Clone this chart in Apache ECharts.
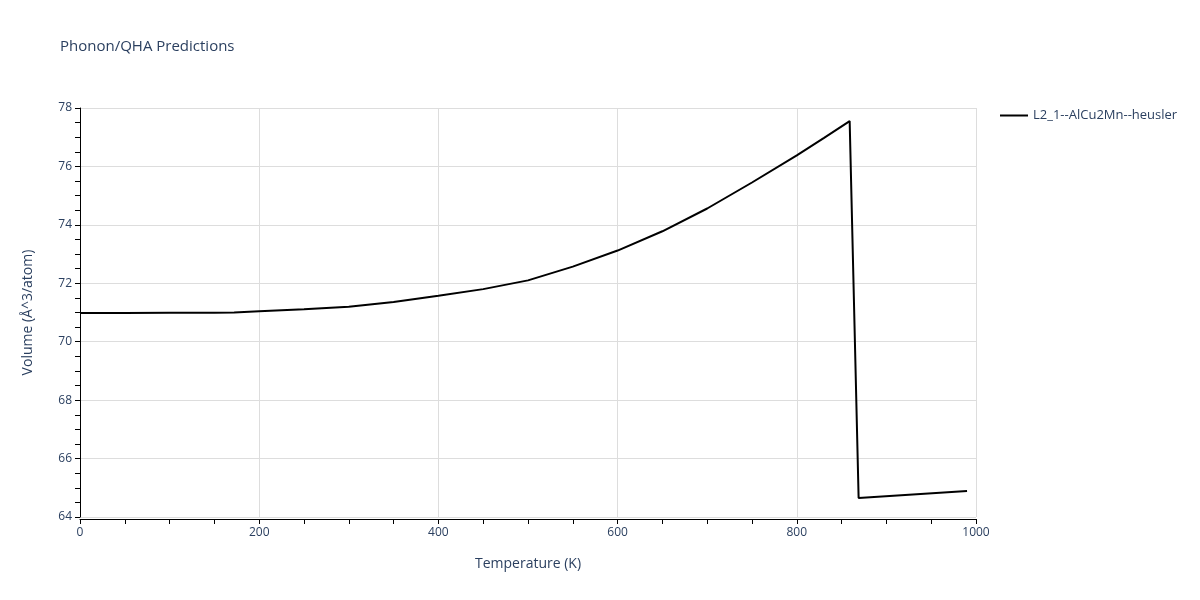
<!DOCTYPE html>
<html>
<head>
<meta charset="utf-8">
<script src="https://cdn.jsdelivr.net/npm/echarts@6/dist/echarts.min.js"></script>
<style>html,body{margin:0;padding:0;background:#fff;}#c{width:1200px;height:600px;}</style>
</head>
<body>
<div id="c"></div>
<script>
const seriesName = 'L2_1--AlCu2Mn--heusler';
const temperatures = [0, 50, 100, 150, 172, 200, 250, 300, 350, 400, 450, 500, 550, 600, 650, 700, 750, 800, 830, 859, 869, 990];
const volumes = [70.98, 70.985, 70.99, 70.995, 71.0, 71.04, 71.11, 71.2, 71.36, 71.57, 71.8, 72.1, 72.57, 73.12, 73.78, 74.56, 75.45, 76.38, 76.97, 77.55, 64.65, 64.89];
const xTicks = {min: 0, max: 1000, interval: 200};
const yTicks = {min: 64, max: 78, interval: 2};

const textColor = '#2a3f5f';
const font = '"Open Sans", "Noto Sans", sans-serif';
const chart = echarts.init(document.getElementById('c'), null, {renderer: 'canvas'});
chart.setOption({
  animation: false,
  backgroundColor: '#fff',
  title: {
    text: 'Phonon/QHA Predictions', left: 60, top: 39, padding: 0,
    textStyle: {fontFamily: font, fontSize: 15, fontWeight: 'normal', color: textColor}
  },
  legend: {
    left: 1000, top: 109, padding: 0, itemWidth: 28, itemHeight: 14, itemGap: 10,
    textStyle: {fontFamily: font, fontSize: 13, color: textColor},
    data: [{name: seriesName, icon: 'path://M0,0 L28,0 L28,2 L0,2 Z'}]
  },
  grid: {left: 80, right: 224, top: 108, bottom: 83, containLabel: false},
  xAxis: {
    type: 'value', min: xTicks.min, max: xTicks.max, interval: xTicks.interval,
    offset: 2,
    name: 'Temperature (K)', nameLocation: 'middle', nameGap: 38,
    nameTextStyle: {fontFamily: font, fontSize: 14, color: textColor},
    axisLine: {show: true, lineStyle: {color: '#000', width: 1}},
    axisTick: {show: true, inside: false, length: 5, lineStyle: {color: '#000'}},
    minorTick: {show: true, splitNumber: 4, length: 5, lineStyle: {color: '#000'}},
    axisLabel: {fontFamily: font, fontSize: 12, color: textColor, margin: 8, formatter: v => String(v)},
    splitLine: {show: true, lineStyle: {color: '#dddddd', width: 1}}
  },
  yAxis: {
    type: 'value', min: yTicks.min, max: yTicks.max, interval: yTicks.interval,
    offset: 1,
    name: 'Volume (Å^3/atom)', nameLocation: 'middle', nameGap: 44,
    nameTextStyle: {fontFamily: font, fontSize: 14, color: textColor},
    axisLine: {show: true, lineStyle: {color: '#000', width: 1}},
    axisTick: {show: true, inside: false, length: 5, lineStyle: {color: '#000'}},
    minorTick: {show: true, splitNumber: 4, length: 5, lineStyle: {color: '#000'}},
    axisLabel: {fontFamily: font, fontSize: 12, color: textColor, margin: 7},
    splitLine: {show: true, lineStyle: {color: '#dddddd', width: 1}}
  },
  series: [{
    name: seriesName, type: 'line', symbol: 'none', smooth: false,
    color: '#000',
    lineStyle: {color: '#000', width: 2},
    data: temperatures.map((t, i) => [t, volumes[i]])
  }]
});
</script>
</body>
</html>
